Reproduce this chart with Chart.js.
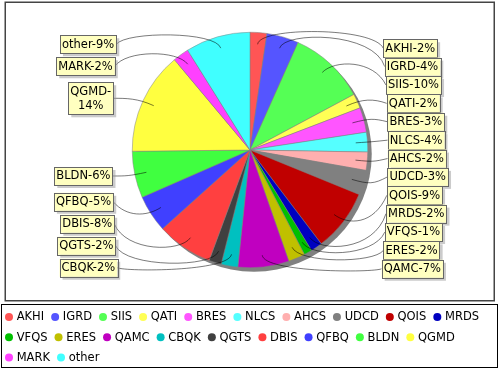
<!DOCTYPE html>
<html><head><meta charset="utf-8">
<script src="https://cdn.jsdelivr.net/npm/chart.js@4/dist/chart.umd.min.js"></script>
<style>html,body{margin:0;padding:0;background:#fff}canvas{display:block}</style>
</head><body>
<canvas id="c" width="500" height="370"></canvas>
<script>
const categories = ['AKHI','IGRD','SIIS','QATI','BRES','NLCS','AHCS','UDCD','QOIS','MRDS','VFQS','ERES','QAMC','CBQK','QGTS','DBIS','QFBQ','BLDN','QGMD','MARK','other'];
const shares = [2.3,4.4,10.5,2.0,3.4,2.7,2.5,3.4,8.5,1.6,1.1,2.3,7.0,2.3,1.7,7.7,5.1,6.4,14.1,2.2,8.9];
const percentLabels = ['2%','4%','10%','2%','3%','4%','2%','3%','9%','2%','1%','2%','7%','2%','2%','8%','5%','6%','14%','2%','9%'];
const colors = ['#FF5555','#5555FF','#55FF55','#FFFF55','#FF55FF','#55FFFF','#FFAFAF','#808080','#C00000','#0000C0','#00C000','#C0C000','#C000C0','#00C0C0','#404040','#FF4040','#4040FF','#40FF40','#FFFF40','#FF40FF','#40FFFF'];

const FONT = '11.5px "DejaVu Sans"';

function layoutSide(items, minY, maxY, gap, spread) {
  items.sort((a, b) => a.ny - b.ny);
  const n = items.length;
  if (!n) return;
  const sumH = items.reduce((s, it) => s + it.h, 0);
  if (sumH + gap * (n - 1) > spread[1] - spread[0]) {
    const g = n > 1 ? (spread[1] - spread[0] - sumH) / (n - 1) : 0;
    let y = spread[0];
    items.forEach(it => { it.y = y + it.h / 2; y += it.h + g; });
    return;
  }
  let prevBottom = -Infinity;
  items.forEach(it => {
    let top = Math.max(it.ny - it.h / 2, minY, prevBottom + gap);
    it.y = top + it.h / 2;
    prevBottom = top + it.h;
  });
  let nextTop = Infinity;
  for (let i = n - 1; i >= 0; i--) {
    const it = items[i];
    let bottom = Math.min(it.y + it.h / 2, maxY, nextTop - gap);
    it.y = bottom - it.h / 2;
    nextTop = bottom - it.h;
  }
}

const piePlugin = {
  id: 'pieDecor',
  beforeDraw(chart) {
    const ctx = chart.ctx;
    ctx.save();
    ctx.fillStyle = '#fff';
    ctx.fillRect(0, 0, chart.width, chart.height);
    ctx.strokeStyle = '#444';
    ctx.lineWidth = 1.5;
    ctx.strokeRect(5.25, 2.25, 489, 298.5);
    ctx.restore();
  },
  beforeDatasetsDraw(chart) {
    const a = chart.getDatasetMeta(0).data[0];
    const ctx = chart.ctx;
    ctx.save();
    ctx.fillStyle = '#808080';
    ctx.beginPath();
    ctx.arc(a.x + 4, a.y + 4, a.outerRadius, 0, Math.PI * 2);
    ctx.fill();
    ctx.restore();
  },
  afterDatasetsDraw(chart) {
    const ctx = chart.ctx;
    const arcs = chart.getDatasetMeta(0).data;
    const cx = arcs[0].x, cy = arcs[0].y, r = arcs[0].outerRadius;
    const RL = r * 1.05;
    const lh = 14;
    ctx.save();
    ctx.font = FONT;
    const left = [], right = [];
    arcs.forEach((a, i) => {
      const mid = (a.startAngle + a.endAngle) / 2;
      const c = Math.cos(mid), s = Math.sin(mid);
      const text = categories[i] + '-' + percentLabels[i];
      let lines = [text];
      if (ctx.measureText(text).width > 62) {
        const k = text.indexOf('-') + 1;
        lines = [text.slice(0, k), text.slice(k)];
      }
      const w = Math.max(...lines.map(t => ctx.measureText(t).width)) + 4;
      const h = lines.length * lh + 4;
      const it = {
        lines, w, h,
        ny: cy + RL * s,
        ex: cx + RL * c, ey: cy + RL * s,
        lx: cx + 0.9 * r * c, ly: cy + 0.9 * r * s,
        right: c >= 0
      };
      (it.right ? right : left).push(it);
    });
    layoutSide(right, cy - r + 7, cy + r + 10, 4, [cy - r + 7, cy + r + 10]);
    layoutSide(left, cy - r + 3, cy + r + 9, 4, [cy - r + 3, cy + r + 9]);
    const all = left.concat(right);
    all.forEach(it => {
      const q = Math.pow((it.y - cy) / r, 2);
      if (it.right) {
        it.bx = cx + r * 1.17 - 6 * q;
        it.tx = it.bx;
      } else {
        it.bx = cx - r * 1.17 + 5 * q - it.w;
        it.tx = it.bx + it.w;
      }
      it.by = it.y - it.h / 2;
    });
    // links
    ctx.strokeStyle = 'rgba(0,0,0,0.65)';
    ctx.lineWidth = 0.8;
    all.forEach(it => {
      const ax = it.right ? cx + RL : cx - RL;
      ctx.beginPath();
      ctx.moveTo(it.tx, it.y);
      ctx.bezierCurveTo(ax, it.ey, it.ex, it.ey, it.lx, it.ly);
      ctx.stroke();
    });
    // boxes
    all.forEach(it => {
      ctx.fillStyle = 'rgba(151,151,151,0.5)';
      ctx.fillRect(it.bx + 3, it.by + 3, it.w, it.h);
      ctx.fillStyle = '#FFFFC0';
      ctx.fillRect(it.bx, it.by, it.w, it.h);
      ctx.strokeStyle = '#666';
      ctx.lineWidth = 1;
      ctx.strokeRect(Math.round(it.bx) + 0.5, Math.round(it.by) + 0.5, Math.round(it.w), Math.round(it.h));
      ctx.fillStyle = '#000';
      ctx.textAlign = 'center';
      ctx.textBaseline = 'middle';
      it.lines.forEach((t, j) => {
        ctx.fillText(t, it.bx + it.w / 2, it.by + 2 + lh / 2 + j * lh + 0.5);
      });
    });
    ctx.restore();
  },
  afterDraw(chart) {
    const ctx = chart.ctx;
    ctx.save();
    const box = {x: 1.5, y: 304.5, w: 496, h: 63};
    ctx.strokeStyle = '#000';
    ctx.lineWidth = 1;
    ctx.strokeRect(box.x, box.y, box.w, box.h);
    ctx.font = FONT;
    ctx.textAlign = 'left';
    ctx.textBaseline = 'middle';
    const ds = chart.data.datasets[0];
    let x = box.x + 3.5, row = 0;
    const maxX = box.x + box.w - 5;
    chart.data.labels.forEach((lab, i) => {
      const tw = ctx.measureText(lab).width;
      const iw = 11.7 + tw;
      if (x + iw > maxX) { row++; x = box.x + 3.5; }
      const y = box.y + 12.5 + row * 20.3;
      ctx.fillStyle = ds.backgroundColor[i];
      ctx.beginPath();
      ctx.arc(x + 4, y, 4, 0, Math.PI * 2);
      ctx.fill();
      ctx.fillStyle = '#000';
      ctx.fillText(lab, x + 11.7, y + 0.5);
      x += iw + 7;
    });
    ctx.restore();
  }
};

new Chart(document.getElementById('c'), {
  type: 'pie',
  data: {
    labels: categories,
    datasets: [{
      data: shares,
      backgroundColor: colors,
      borderColor: '#808080',
      borderWidth: 0.5
    }]
  },
  options: {
    responsive: false,
    devicePixelRatio: 1,
    animation: false,
    layout: {padding: {top: 32, bottom: 102, left: 130, right: 130}},
    plugins: {legend: {display: false}, tooltip: {enabled: false}}
  },
  plugins: [piePlugin]
});
</script>
</body></html>
